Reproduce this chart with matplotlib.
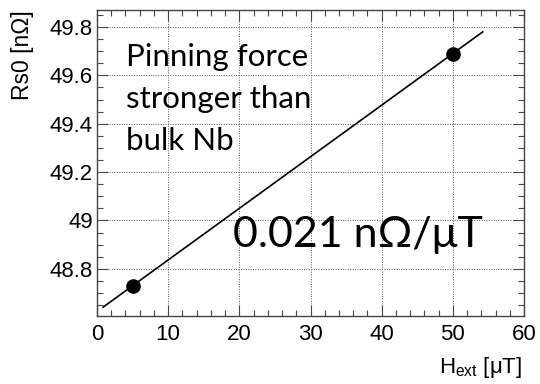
import matplotlib.pyplot as plt
import numpy as np
from matplotlib.ticker import MultipleLocator, FuncFormatter

h_ext = [5, 50]
rs0 = [48.73, 49.69]
fit_range = [0.85, 54.2]

slope, intercept = np.polyfit(h_ext, rs0, 1)
x_fit = np.array(fit_range)
y_fit = slope * x_fit + intercept

plt.rcParams['font.family'] = ['Liberation Sans', 'DejaVu Sans']
plt.rcParams['mathtext.fontset'] = 'custom'
plt.rcParams['mathtext.rm'] = 'Liberation Sans'
plt.rcParams['mathtext.it'] = 'Liberation Sans'

fig = plt.figure(figsize=(5.4, 3.84), dpi=100)
ax = fig.add_axes([97 / 540, 1 - 316 / 384, 427 / 540, 306 / 384])

ax.plot(x_fit, y_fit, color='black', linewidth=1.2)
ax.plot(h_ext, rs0, 'o', color='black', markersize=9.5)

ax.set_xlim(0, 60)
ax.set_ylim(48.605, 49.87)
ax.xaxis.set_major_locator(MultipleLocator(10))
ax.xaxis.set_minor_locator(MultipleLocator(2))
ax.yaxis.set_major_locator(MultipleLocator(0.2))
ax.yaxis.set_minor_locator(MultipleLocator(0.05))
ax.yaxis.set_major_formatter(FuncFormatter(lambda v, p: f'{v:g}'))

ax.grid(True, which='major', linestyle=(0, (1, 1.5)), color='#555555', linewidth=0.7)
ax.tick_params(which='both', direction='in', top=True, right=True,
               color='#444444', labelsize=16)
ax.tick_params(axis='y', pad=3)
ax.tick_params(axis='x', pad=6)
ax.tick_params(which='major', length=8, width=0.8)
ax.tick_params(which='minor', length=4, width=0.8)
for s in ax.spines.values():
    s.set_color('#444444')
    s.set_linewidth(1.0)

fig.text(22 / 540, 1 - 10 / 384, 'Rs0 [n\u03a9]', rotation=90, ha='center', va='top',
         fontsize=16.5)
fig.text(522 / 540, 1 - 373 / 384, 'H$_{\\mathregular{ext}}$ [\u03bcT]',
         ha='right', va='baseline', fontsize=16)

ax.text(29 / 427, 1 - 33 / 306, 'Pinning force\nstronger than\nbulk Nb', transform=ax.transAxes,
        ha='left', va='top', fontsize=22.5, family='Lato', linespacing=1.6)
ax.text(136 / 427, 1 - 237 / 306, '0.021 n\u03a9/\u03bcT', transform=ax.transAxes,
        ha='left', va='baseline', fontsize=31, family='Lato')

fig.savefig('out.png', dpi=100)
